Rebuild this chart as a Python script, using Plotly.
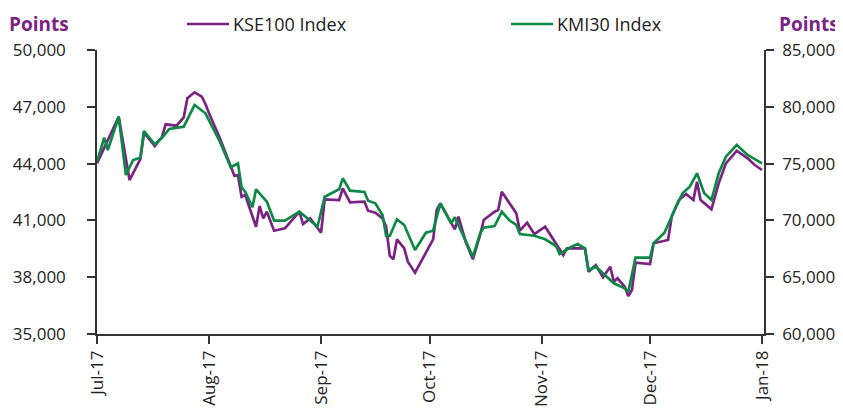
import plotly.graph_objects as go

# KSE100 Index (left axis)
kse_dates = [
    "2017-07-01", "2017-07-07", "2017-07-10", "2017-07-13", "2017-07-14", "2017-07-17",
    "2017-07-19", "2017-07-20", "2017-07-23", "2017-07-25", "2017-07-26", "2017-07-28",
    "2017-07-30", "2017-07-31", "2017-08-01", "2017-08-04", "2017-08-08", "2017-08-09",
    "2017-08-10", "2017-08-11", "2017-08-14", "2017-08-15", "2017-08-16", "2017-08-17",
    "2017-08-19", "2017-08-22", "2017-08-26", "2017-08-27", "2017-08-29", "2017-09-01",
    "2017-09-02", "2017-09-06", "2017-09-07", "2017-09-09", "2017-09-13", "2017-09-14",
    "2017-09-16", "2017-09-18", "2017-09-19", "2017-09-20", "2017-09-21", "2017-09-22",
    "2017-09-24", "2017-09-25", "2017-09-27", "2017-09-30", "2017-10-02", "2017-10-03",
    "2017-10-04", "2017-10-08", "2017-10-09", "2017-10-11", "2017-10-13", "2017-10-15",
    "2017-10-16", "2017-10-19", "2017-10-20", "2017-10-21", "2017-10-25", "2017-10-26",
    "2017-10-28", "2017-10-30", "2017-11-02", "2017-11-07", "2017-11-08", "2017-11-13",
    "2017-11-14", "2017-11-16", "2017-11-18", "2017-11-20", "2017-11-21", "2017-11-22",
    "2017-11-24", "2017-11-25", "2017-11-26", "2017-11-27", "2017-12-01", "2017-12-02",
    "2017-12-06", "2017-12-07", "2017-12-09", "2017-12-11", "2017-12-13", "2017-12-14",
    "2017-12-15", "2017-12-18", "2017-12-20", "2017-12-22", "2017-12-25", "2017-12-28",
    "2017-12-30", "2018-01-01",
]
kse_values = [
    44015, 46477, 43133, 44243, 45632, 44929,
    45420, 46075, 46001, 46445, 47449, 47766,
    47533, 47148, 46656, 45336, 43360, 43397,
    42251, 42341, 40667, 41760, 41110, 41459,
    40455, 40582, 41459, 40809, 41110, 40350,
    42114, 42077, 42695, 41956, 41987, 41512,
    41406, 41110, 40667, 39135, 38945, 40001,
    39526, 38818, 38237, 39346, 40001, 41549,
    41903, 40529, 41195, 39874, 38945, 40228,
    41021, 41459, 41549, 42515, 41374, 40455,
    40878, 40281, 40667, 39172, 39526, 39526,
    38290, 38644, 37994, 38554, 37761, 37941,
    37498, 37006, 37323, 38765, 38697, 39791,
    39964, 41195, 42077, 42394, 42077, 43044,
    42077, 41586, 42959, 44015, 44681, 44280,
    43926, 43662,
]

# KMI30 Index (right axis)
kmi_dates = [
    "2017-07-01", "2017-07-03", "2017-07-04", "2017-07-07", "2017-07-09", "2017-07-11",
    "2017-07-13", "2017-07-14", "2017-07-17", "2017-07-19", "2017-07-21", "2017-07-25",
    "2017-07-28", "2017-07-31", "2017-08-04", "2017-08-07", "2017-08-09", "2017-08-10",
    "2017-08-11", "2017-08-13", "2017-08-14", "2017-08-16", "2017-08-17", "2017-08-19",
    "2017-08-22", "2017-08-26", "2017-08-28", "2017-08-31", "2017-09-02", "2017-09-06",
    "2017-09-07", "2017-09-09", "2017-09-13", "2017-09-14", "2017-09-16", "2017-09-18",
    "2017-09-19", "2017-09-20", "2017-09-22", "2017-09-24", "2017-09-27", "2017-09-30",
    "2017-10-02", "2017-10-04", "2017-10-07", "2017-10-08", "2017-10-13", "2017-10-15",
    "2017-10-16", "2017-10-19", "2017-10-21", "2017-10-23", "2017-10-25", "2017-10-26",
    "2017-10-30", "2017-11-02", "2017-11-05", "2017-11-06", "2017-11-09", "2017-11-11",
    "2017-11-13", "2017-11-14", "2017-11-16", "2017-11-21", "2017-11-24", "2017-11-25",
    "2017-11-27", "2017-12-01", "2017-12-02", "2017-12-05", "2017-12-08", "2017-12-10",
    "2017-12-12", "2017-12-14", "2017-12-16", "2017-12-18", "2017-12-20", "2017-12-22",
    "2017-12-25", "2017-12-28", "2018-01-01",
]
kmi_values = [
    75167, 77280, 76197, 79128, 73996, 75317,
    75519, 77870, 76699, 77280, 78046, 78248,
    80158, 79428, 76928, 74674, 75026, 72914,
    72526, 71153, 72738, 71945, 71646, 69974,
    69974, 70767, 70239, 69445, 72086, 72738,
    73706, 72614, 72500, 71734, 71505, 70475,
    68626, 68626, 70097, 69595, 67394, 68917,
    69095, 71505, 69746, 70273, 66804, 68864,
    69357, 69507, 70767, 70036, 69595, 68802,
    68653, 68336, 67746, 67042, 67632, 67922,
    67546, 65633, 65925, 64464, 64022, 63723,
    66717, 66717, 67984, 68917, 71065, 72385,
    72966, 74146, 72385, 71796, 74146, 75607,
    76637, 75757, 75026,
]

month_ticks = ["2017-07-01", "2017-08-01", "2017-09-01", "2017-10-01",
               "2017-11-01", "2017-12-01", "2018-01-01"]
left_ticks = [35000, 38000, 41000, 44000, 47000, 50000]
right_ticks = [60000, 65000, 70000, 75000, 80000, 85000]

PURPLE = "#7A2383"
GREEN = "#0C8A45"
AXIS = "#333333"
TEXT = "#222222"
FONT = "Open Sans"

# figure geometry (page body adds an 8px offset)
W, H = 835, 402
ML, MR, MT, MB = 89, 79, 42, 76
PW = W - ML - MR
PH = H - MT - MB


def px(X):
    return (X - 8 - ML) / PW


def py(Y):
    return (H - MB - (Y - 8)) / PH


fig = go.Figure()
fig.add_trace(go.Scatter(x=kse_dates, y=kse_values, name="KSE100 Index", mode="lines",
                         line=dict(color=PURPLE, width=2.7), showlegend=False))
fig.add_trace(go.Scatter(x=kmi_dates, y=kmi_values, name="KMI30 Index", mode="lines",
                         line=dict(color=GREEN, width=2.7), yaxis="y2", showlegend=False))

axis_common = dict(showgrid=False, zeroline=False, showline=True, linecolor=AXIS,
                   linewidth=1.5, ticks="outside", ticklen=8, tickcolor=AXIS,
                   tickwidth=1.5, tickfont=dict(family=FONT, size=17, color=TEXT))

leg_y = py(24)
fig.update_layout(
    width=W, height=H,
    margin=dict(l=ML, r=MR, t=MT, b=MB, autoexpand=False),
    paper_bgcolor="white", plot_bgcolor="white",
    font=dict(family=FONT, color=TEXT),
    xaxis=dict(type="date", range=["2017-07-01", "2018-01-01 13:00"], tickvals=month_ticks,
               tickformat="%b-%y", tickangle=-90, automargin=False, **axis_common),
    yaxis=dict(range=[35000, 50000], tickvals=left_ticks, tickformat=",d",
               ticklabelstandoff=18, automargin=False, **axis_common),
    yaxis2=dict(range=[60000, 85000], tickvals=right_ticks, tickformat=",d",
                overlaying="y", side="right", ticklabelstandoff=5, automargin=False,
                **axis_common),
    shapes=[
        dict(type="line", xref="paper", yref="paper", x0=px(187), x1=px(229),
             y0=leg_y, y1=leg_y, line=dict(color=PURPLE, width=2.4)),
        dict(type="line", xref="paper", yref="paper", x0=px(511), x1=px(553),
             y0=leg_y, y1=leg_y, line=dict(color=GREEN, width=2.4)),
    ],
    annotations=[
        dict(text="KSE100 Index", xref="paper", yref="paper", x=px(231),
             y=leg_y, xanchor="left", yanchor="middle", showarrow=False,
             font=dict(family=FONT, size=18, color=TEXT)),
        dict(text="KMI30 Index", xref="paper", yref="paper", x=px(555),
             y=leg_y, xanchor="left", yanchor="middle", showarrow=False,
             font=dict(family=FONT, size=18, color=TEXT)),
        dict(text="<b>Points</b>", xref="paper", yref="paper", x=px(7),
             y=leg_y, xanchor="left", yanchor="middle", showarrow=False,
             font=dict(family=FONT, size=19, color=PURPLE)),
        dict(text="<b>Points</b>", xref="paper", yref="paper", x=px(841),
             y=leg_y, xanchor="right", yanchor="middle", showarrow=False,
             font=dict(family=FONT, size=19, color=PURPLE)),
    ],
)

fig.write_html("out.html")
